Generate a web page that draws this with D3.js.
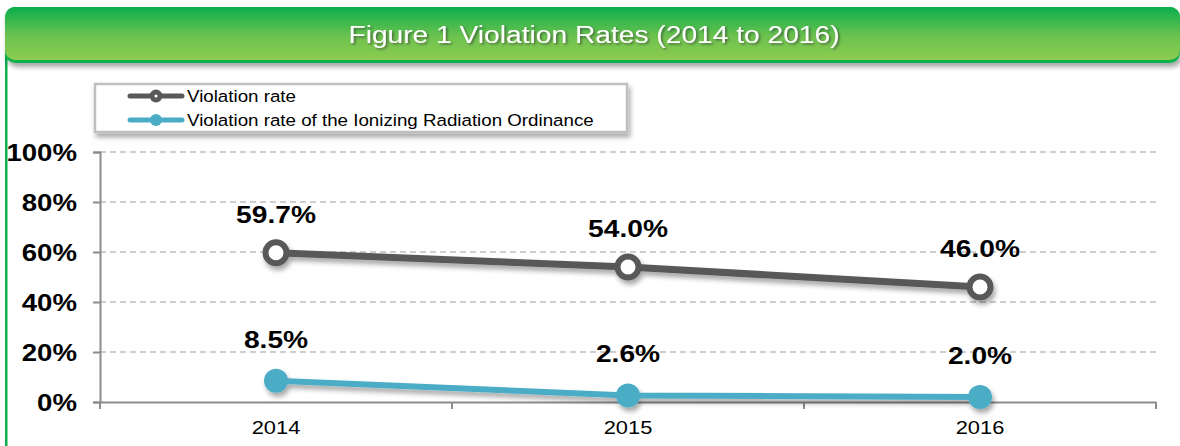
<!DOCTYPE html>
<meta charset="utf-8">
<style>
body { margin: 0; background: #fff; }
svg { font-family: Arial, "Liberation Sans", sans-serif; }
.title { fill: #fff; font-size: 24.5px; text-anchor: middle; }
.grid line { stroke: #bfbfbf; stroke-width: 1.3px; stroke-dasharray: 6,4; }
.ytick { font-size: 24px; font-weight: bold; text-anchor: end; }
.xtick { font-size: 19px; text-anchor: middle; }
.vlabel { font-size: 24.5px; font-weight: bold; text-anchor: middle; }
.legend text { font-size: 16.3px; }
</style>
<svg width="1180" height="446"></svg>
<script src="https://d3js.org/d3.v7.min.js"></script>
<script>

var years = ["2014", "2015", "2016"];
var violationRate = [59.7, 54.0, 46.0];
var radiationRate = [8.5, 2.6, 2.0];
var yTicks = [0, 20, 40, 60, 80, 100];
var seriesNames = ["Violation rate", "Violation rate of the Ionizing Radiation Ordinance"];

// the original type is a bit wider than the local Arial substitute
var K = 1.15;
function stretch(sel) {
  sel.each(function() {
    var t = d3.select(this), tx = +t.attr("x") || 0;
    t.attr("x", tx / K).attr("transform", "scale(" + K + ",1)");
  });
}

var svg = d3.select("svg");
var defs = svg.append("defs");

var grad = defs.append("linearGradient").attr("id", "hdr").attr("x1", 0).attr("y1", 0).attr("x2", 0).attr("y2", 1);
grad.append("stop").attr("offset", "0%").attr("stop-color", "#0aae4c");
grad.append("stop").attr("offset", "55%").attr("stop-color", "#6cc24f");
grad.append("stop").attr("offset", "100%").attr("stop-color", "#8dcc50");

var shadow = defs.append("filter").attr("id", "shadow").attr("x", "-20%").attr("y", "-20%").attr("width", "140%").attr("height", "160%");
shadow.append("feDropShadow").attr("dx", 2).attr("dy", 4).attr("stdDeviation", 2.5).attr("flood-color", "#000").attr("flood-opacity", 0.35);

var tshadow = defs.append("filter").attr("id", "tshadow");
tshadow.append("feDropShadow").attr("dx", 1.5).attr("dy", 1.5).attr("stdDeviation", 0.8).attr("flood-color", "#333").attr("flood-opacity", 0.6);

// left frame line
svg.append("rect").attr("x", 5).attr("y", 40).attr("width", 2.5).attr("height", 420).attr("fill", "#0db14b");

// header banner
svg.append("rect")
    .attr("x", 5).attr("y", 7).attr("width", 1175).attr("height", 56).attr("rx", 10)
    .attr("fill", "#0db14b")
    .attr("filter", "url(#shadow)");
svg.append("rect")
    .attr("x", 5).attr("y", 7).attr("width", 1175).attr("height", 53).attr("rx", 10)
    .attr("fill", "url(#hdr)");

svg.append("text").attr("class", "title")
    .attr("x", 594).attr("y", 43)
    .attr("filter", "url(#tshadow)")
    .text("Figure 1 Violation Rates (2014 to 2016)")
    .call(stretch);

var x = d3.scaleBand().domain(years).range([100, 1156]);
var y = d3.scaleLinear().domain([0, 100]).range([402, 152]);

// gridlines
svg.append("g").attr("class", "grid")
  .selectAll("line").data(yTicks.filter(function(d) { return d > 0; }))
  .enter().append("line")
    .attr("x1", 100).attr("x2", 1156)
    .attr("y1", function(d) { return y(d); }).attr("y2", function(d) { return y(d); });

// y axis
var yAxis = svg.append("g").attr("transform", "translate(100,0)")
    .call(d3.axisLeft(y).tickValues(yTicks).tickSize(7).tickFormat(function(d) { return d + "%"; }));
yAxis.select(".domain").attr("stroke", "#8c8c8c").attr("stroke-width", 2);
yAxis.selectAll(".tick line").attr("stroke", "#8c8c8c").attr("stroke-width", 2);
yAxis.selectAll(".tick text").attr("class", "ytick").attr("x", -23).attr("dy", "0.36em").attr("fill", "#000").style("font-family", null)
    .call(stretch);

// x axis
var xAxis = svg.append("g").attr("transform", "translate(0,402)")
    .call(d3.axisBottom(x).tickSize(0).tickSizeOuter(0));
xAxis.select(".domain").attr("stroke", "#8c8c8c").attr("stroke-width", 2);
xAxis.selectAll(".tick text").attr("class", "xtick").attr("y", 19).attr("dy", "0.71em").attr("fill", "#000").style("font-family", null)
    .call(stretch);
// category separators
var bounds = [100].concat(years.map(function(d) { return x(d) + x.bandwidth(); }));
svg.append("g").selectAll("line").data(bounds).enter().append("line")
    .attr("x1", function(d) { return d; }).attr("x2", function(d) { return d; })
    .attr("y1", 402).attr("y2", 409)
    .attr("stroke", "#8c8c8c").attr("stroke-width", 2);

function cx(d, i) { return x(years[i]) + x.bandwidth() / 2; }

var line = d3.line().x(function(d, i) { return cx(d, i); }).y(function(d) { return y(d); });

// blue series
var gb = svg.append("g").attr("filter", "url(#shadow)");
gb.append("path").datum(radiationRate).attr("d", line)
    .attr("fill", "none").attr("stroke", "#4bacc6").attr("stroke-width", 6);
gb.selectAll("circle").data(radiationRate).enter().append("circle")
    .attr("cx", cx).attr("cy", function(d) { return y(d); }).attr("r", 12)
    .attr("fill", "#4bacc6");

// gray series
var gg = svg.append("g").attr("filter", "url(#shadow)");
gg.append("path").datum(violationRate).attr("d", line)
    .attr("fill", "none").attr("stroke", "#595959").attr("stroke-width", 7);
gg.selectAll("circle").data(violationRate).enter().append("circle")
    .attr("cx", cx).attr("cy", function(d) { return y(d); }).attr("r", 10.5)
    .attr("fill", "#fff").attr("stroke", "#595959").attr("stroke-width", 6);

// value labels
svg.append("g").selectAll("text").data(violationRate).enter().append("text")
    .attr("class", "vlabel")
    .attr("x", cx).attr("y", function(d) { return y(d) - 30; })
    .text(function(d) { return d.toFixed(1) + "%"; })
    .call(stretch);
svg.append("g").selectAll("text").data(radiationRate).enter().append("text")
    .attr("class", "vlabel")
    .attr("x", cx).attr("y", function(d) { return y(d) - 33; })
    .text(function(d) { return d.toFixed(1) + "%"; })
    .call(stretch);

// legend
var lg = svg.append("g").attr("class", "legend");
lg.append("rect").attr("x", 95).attr("y", 84).attr("width", 532).attr("height", 48)
    .attr("fill", "#fff").attr("stroke", "#bfbfbf").attr("stroke-width", 2.5)
    .attr("filter", "url(#shadow)");
var colors = ["#595959", "#4bacc6"];
seriesNames.forEach(function(name, i) {
  var ly = 96 + i * 24;
  lg.append("line").attr("x1", 130).attr("x2", 182).attr("y1", ly).attr("y2", ly)
      .attr("stroke", colors[i]).attr("stroke-width", 5).attr("stroke-linecap", "round");
  lg.append("circle").attr("cx", 156).attr("cy", ly).attr("r", i === 0 ? 6.5 : 6)
      .attr("fill", colors[i]);
  if (i === 0) lg.append("circle").attr("cx", 156).attr("cy", ly).attr("r", 1.6).attr("fill", "#fff");
  lg.append("text").attr("x", 187).attr("y", ly).attr("dy", "0.36em").text(name).call(stretch);
});

</script>
